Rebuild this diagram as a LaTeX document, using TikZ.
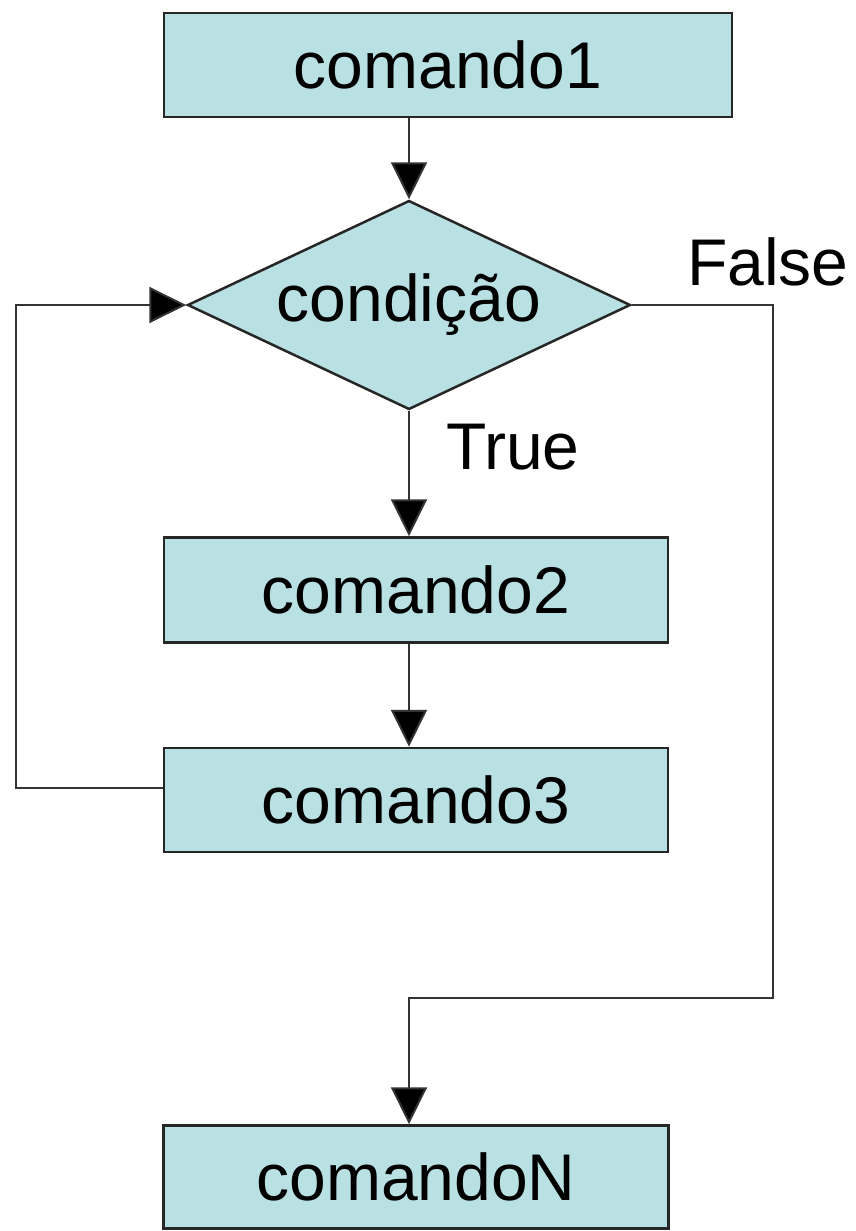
\documentclass[tikz,border=0pt]{standalone}
\usepackage{fontspec}
\setmainfont{Liberation Sans}
\usetikzlibrary{arrows.meta,shapes.geometric}
\definecolor{boxfill}{RGB}{185,224,227}
\tikzset{
	cmd/.style={draw=black!85, line width=2.5pt, fill=boxfill, inner sep=0pt, font=\fontsize{66}{78}\selectfont},
	lbl/.style={inner sep=0pt, font=\fontsize{66}{78}\selectfont},
	arr/.style={draw=black!80, line width=2pt, -{Triangle[length=37pt,width=36pt,fill=black]}}
}
\begin{document}
\begin{tikzpicture}[x=1pt,y=-1pt]
			\useasboundingbox (0,0) rectangle (855,1231);
			\node[cmd, minimum width=568pt, minimum height=104pt] (cmdA) at (448,65) {comando1};
			\node[cmd, diamond, aspect=2.12, minimum width=443pt, minimum height=209pt] (cond) at (409,305) {condição};
			\node[cmd, minimum width=504pt, minimum height=105pt] (cmdB) at (416,590) {comando2};
			\node[cmd, minimum width=504pt, minimum height=104pt] (cmdC) at (416,800) {comando3};
			\node[cmd, minimum width=505pt, minimum height=103pt] (cmdN) at (416,1177) {comandoN};
			\node[lbl] (lblF) at (768,262) {False};
			\node[lbl] (lblT) at (513,447) {True};
			\coordinate (loopL) at (16,500);
			\coordinate (falseR) at (773,998);
			\draw[arr] (cmdA.south -| cond.north) -- (cond.north);
			\draw[arr] (cond.south) -- (cmdB.north -| cond.south);
			\draw[arr] (cmdB.south -| cond.south) -- (cmdC.north -| cond.south);
			\draw[arr] ([yshift=12pt]cmdC.west) -| (loopL) |- (cond.west);
			\draw[arr] (cond.east) -| (falseR) -| (cmdN.north -| cond.south);
\end{tikzpicture}
\end{document}
